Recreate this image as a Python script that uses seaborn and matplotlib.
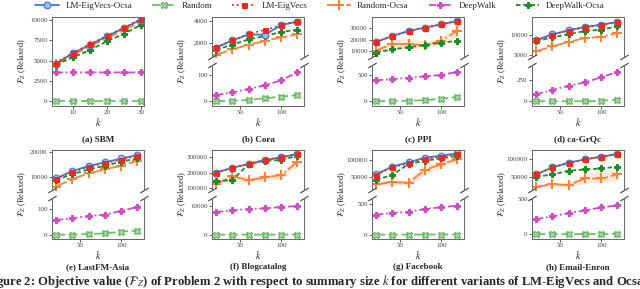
import numpy as np
import pandas as pd
import matplotlib
matplotlib.use("Agg")
import matplotlib.pyplot as plt
import seaborn as sns

# ---- data ----
k_sbm = [5, 10, 15, 20, 25, 30]
k_real = [20, 40, 60, 80, 100, 120]

methods = ["LM-EigVecs-Ocsa", "Random", "LM-EigVecs", "Random-Ocsa", "DeepWalk", "DeepWalk-Ocsa"]

sbm = {
    "LM-EigVecs-Ocsa": [4650, 5900, 6950, 8000, 9000, 10050],
    "Random": [40, 40, 40, 40, 40, 40],
    "LM-EigVecs": [4700, 5950, 7000, 8050, 9050, 10080],
    "Random-Ocsa": [4550, 5700, 6750, 7800, 8750, 9800],
    "DeepWalk": [3550, 3550, 3560, 3560, 3560, 3560],
    "DeepWalk-Ocsa": [4500, 5400, 6300, 7400, 8300, 9400],
}
cora = {
    "LM-EigVecs-Ocsa": [1550, 2200, 2750, 2720, 3600, 3900],
    "Random": [0, 1, 5, 11, 17, 23],
    "LM-EigVecs": [1600, 2200, 2800, 3150, 3600, 3950],
    "Random-Ocsa": [900, 1390, 1820, 2150, 2500, 2750],
    "DeepWalk": [23, 33, 46, 60, 78, 109],
    "DeepWalk-Ocsa": [1360, 1820, 2300, 2600, 2970, 3180],
}
ppi = {
    "LM-EigVecs-Ocsa": [18000, 23100, 27400, 30300, 33100, 36000],
    "Random": [0, 5, 10, 20, 45, 80],
    "LM-EigVecs": [18000, 23100, 27400, 30300, 33100, 36000],
    "Random-Ocsa": [10600, 16300, 16300, 15100, 18900, 27700],
    "DeepWalk": [391, 417, 436, 468, 494, 551],
    "DeepWalk-Ocsa": [8900, 11700, 13400, 15400, 17400, 18900],
}
grqc = {
    "LM-EigVecs-Ocsa": [8700, 10260, 11300, 12150, 12760, 13450],
    "Random": [0, 0, 0, 0, 5, 20],
    "LM-EigVecs": [8700, 10200, 11200, 12100, 12700, 13400],
    "Random-Ocsa": [5860, 7150, 8280, 9310, 9570, 10600],
    "DeepWalk": [79, 131, 179, 218, 278, 341],
    "DeepWalk-Ocsa": [8450, 9480, 10260, 11120, 11470, 12330],
}
lastfm = {
    "LM-EigVecs-Ocsa": [9300, 12300, 14400, 15900, 17500, 18900],
    "Random": [0, 0, 3, 5, 12, 16],
    "LM-EigVecs": [9200, 12000, 14000, 15600, 17000, 18600],
    "Random-Ocsa": [5900, 9000, 11400, 13000, 14500, 16600],
    "DeepWalk": [58, 65, 74, 79, 94, 110],
    "DeepWalk-Ocsa": [8600, 11000, 13000, 14500, 16200, 17500],
}
blog = {
    "LM-EigVecs-Ocsa": [200000, 230000, 254000, 279000, 296000, 317000],
    "Random": [10, 20, 30, 40, 50, 60],
    "LM-EigVecs": [200000, 230000, 254000, 279000, 296000, 317000],
    "Random-Ocsa": [127000, 177000, 152000, 169000, 184000, 268000],
    "DeepWalk": [8000, 8600, 9060, 9300, 9760, 10100],
    "DeepWalk-Ocsa": [146000, 152000, 254000, 273000, 279000, 306000],
}
facebook = {
    "LM-EigVecs-Ocsa": [58700, 80800, 93300, 106700, 112500, 119200],
    "Random": [0, 0, 1, 1, 2, 2],
    "LM-EigVecs": [56700, 78800, 90400, 103000, 109600, 117300],
    "Random-Ocsa": [29800, 35600, 34600, 71200, 87500, 102900],
    "DeepWalk": [323, 349, 366, 414, 441, 468],
    "DeepWalk-Ocsa": [42300, 56700, 88500, 98000, 104800, 112500],
}
enron = {
    "LM-EigVecs-Ocsa": [56700, 76900, 90400, 100000, 107700, 115400],
    "Random": [0, 0, 1, 1, 2, 2],
    "LM-EigVecs": [56700, 76900, 90400, 100000, 107700, 115400],
    "Random-Ocsa": [21200, 28800, 26000, 45200, 45200, 56700],
    "DeepWalk": [214, 252, 300, 338, 380, 410],
    "DeepWalk-Ocsa": [50000, 56700, 67300, 71200, 74000, 78800],
}

# shaded spread of Random-Ocsa
ppi_lo = [9500, 13000, 12500, 12000, 16000, 23000]
ppi_hi = [11500, 20000, 21000, 18500, 21500, 33000]
blog_lo = [118000, 140000, 135000, 150000, 160000, 240000]
blog_hi = [135000, 205000, 172000, 190000, 205000, 292000]
fb_lo = [25000, 28000, 27000, 55000, 80000, 98000]
fb_hi = [35000, 43000, 42000, 88000, 95000, 108000]
enron_lo = [18000, 24000, 20000, 33000, 32000, 40000]
enron_hi = [24000, 33000, 33000, 58000, 68000, 72000]

panels = [
    ("(a) SBM", k_sbm, sbm, None, None),
    ("(b) Cora", k_real, cora, None, None),
    ("(c) PPI", k_real, ppi, ppi_lo, ppi_hi),
    ("(d) ca-GrQc", k_real, grqc, None, None),
    ("(e) LastFM-Asia", k_real, lastfm, None, None),
    ("(f) Blogcatalog", k_real, blog, blog_lo, blog_hi),
    ("(g) Facebook", k_real, facebook, fb_lo, fb_hi),
    ("(h) Email-Enron", k_real, enron, enron_lo, enron_hi),
]
# (top ylim, top ticks, bottom ylim, bottom ticks)
ranges = [
    ((-570, 10370), [0, 2500, 5000, 7500, 10000], None, None),
    ((700, 4330), [2000, 4000], (-18, 136), [0, 100]),
    ((5100, 39400), [10000, 20000, 30000], (-90, 680), [0, 500]),
    ((4400, 14740), [5000, 10000], (-55, 420), [0, 250]),
    ((4500, 21000), [10000, 20000], (-17, 145), [0, 100]),
    ((90000, 342000), [100000, 200000, 300000], (-1500, 12940), [0, 10000]),
    ((13000, 129000), [50000, 100000], (-70, 590), [0, 500]),
    ((12000, 127000), [50000, 100000], (-70, 515), [0, 500]),
]
low_methods = ["Random", "DeepWalk"]

styles = {
    "LM-EigVecs-Ocsa": dict(color="#3d78d4", linestyle="-", marker="o", markersize=4.8,
                            markerfacecolor="#9dbcf0", markeredgecolor="#3d78d4", markeredgewidth=0.8),
    "Random": dict(color="#6cc46a", linestyle=(0, (5, 2)), marker="X", markersize=4.8,
                   markerfacecolor="#9bdc92", markeredgecolor="#4c9f4c", markeredgewidth=0.6),
    "LM-EigVecs": dict(color="#f02a1a", linestyle=":", marker="s", markersize=3.6,
                       markeredgecolor="#f02a1a"),
    "Random-Ocsa": dict(color="#ff8038", linestyle="-.", marker="+", markersize=6.5,
                        markeredgecolor="#ff8038", markeredgewidth=1.4),
    "DeepWalk": dict(color="#d04cc4", linestyle=(0, (4, 1.5, 1, 1.5)), marker="P", markersize=4.5,
                     markeredgecolor="#d04cc4"),
    "DeepWalk-Ocsa": dict(color="#1f8a2a", linestyle=(0, (2.5, 1.5)), marker="P", markersize=3.8,
                          markeredgecolor="#1f8a2a"),
}
draw_order = ["Random", "DeepWalk", "Random-Ocsa", "DeepWalk-Ocsa", "LM-EigVecs-Ocsa", "LM-EigVecs"]

sns.set_theme(style="ticks")
plt.rcParams["font.family"] = ["Liberation Serif", "DejaVu Serif"]
plt.rcParams["mathtext.fontset"] = "stix"
plt.rcParams["axes.edgecolor"] = "#666666"
plt.rcParams["axes.linewidth"] = 0.7

W, H = 640, 289
fig = plt.figure(figsize=(W / 100, H / 100), dpi=100)


def rect(x0, ytop, w, h):
    return [x0 / W, 1 - (ytop + h) / H, w / W, h / H]


def style_ax(ax):
    ax.tick_params(labelsize=5, length=2, width=0.6, pad=1.2, colors="#444444")
    ax.set_xlabel("")
    ax.set_ylabel("")


def draw(ax, ks, data, names, lo=None, hi=None):
    for m in draw_order:
        if m not in names:
            continue
        if m == "Random-Ocsa" and lo is not None:
            ax.fill_between(ks, lo, hi, color="#ff8a45", alpha=0.2, linewidth=0)
        sns.lineplot(x=ks, y=data[m], ax=ax, linewidth=1.3, label=m, legend=False,
                     **styles[m])


row_top = [17, 150]
k_y = [122, 255]
title_y = [139, 267]
handles = None
for i, (title, ks, data, lo, hi) in enumerate(panels):
    r, c = divmod(i, 4)
    x0 = 52 + 160 * c
    ytop = row_top[r]
    top_lim, top_ticks, bot_lim, bot_ticks = ranges[i]
    xl = (3.9, 30.9) if ks == k_sbm else (15, 128)
    xt = [10, 20, 30] if ks == k_sbm else [50, 100]
    if bot_lim is None:
        ax = fig.add_axes(rect(x0, ytop, 92, 89))
        draw(ax, ks, data, methods)
        ax.set_ylim(top_lim)
        ax.set_yticks(top_ticks)
        ax.set_xlim(xl)
        ax.set_xticks(xt)
        style_ax(ax)
        handles = {h.get_label(): h for h in ax.get_lines()}
    else:
        axt = fig.add_axes(rect(x0, ytop, 92, 40))
        axb = fig.add_axes(rect(x0, ytop + 48, 92, 41))
        draw(axt, ks, data, [m for m in methods if m not in low_methods], lo, hi)
        draw(axb, ks, data, low_methods)
        axt.set_ylim(top_lim)
        axt.set_yticks(top_ticks)
        axb.set_ylim(bot_lim)
        axb.set_yticks(bot_ticks)
        for a in (axt, axb):
            a.set_xlim(xl)
            style_ax(a)
        axb.set_xticks(xt)
        axt.set_xticks([])
        axt.spines["bottom"].set_visible(False)
        axb.spines["top"].set_visible(False)
        kw = dict(marker=[(-1, -0.6), (1, 0.6)], markersize=6, linestyle="none",
                  color="#444444", mec="#444444", mew=0.8, clip_on=False)
        axt.plot([0, 1], [0, 0], transform=axt.transAxes, **kw)
        axb.plot([0, 1], [1, 1], transform=axb.transAxes, **kw)
    cx = (x0 + 46) / W
    fig.text((x0 - 30) / W, 1 - (ytop + 44.5) / H, r"$\mathcal{F}_Z$ (Relaxed)",
             rotation=90, ha="center", va="center", fontsize=6)
    fig.text(cx, 1 - k_y[r] / H, "$k$", ha="center", va="center", fontsize=7)
    fig.text(cx, 1 - title_y[r] / H, title, ha="center", va="center",
             fontsize=6.5, fontweight="bold")

fig.legend([handles[m] for m in methods], methods, loc="center", ncol=6,
           bbox_to_anchor=(0.5, 1 - 5.5 / H), frameon=False, fontsize=6.5,
           handlelength=2.6, handletextpad=0.7, columnspacing=2.2, borderaxespad=0)

fig.text(-15 / W, 1 - 281 / H,
         r"Figure 2: Objective value ($\mathcal{F}_Z$) of Problem 2 with respect to summary size $k$ "
         r"for different variants of LM-EigVecs and Ocsa",
         ha="left", va="center", fontsize=9.1, fontweight="bold")

fig.savefig("out.png", dpi=100)
